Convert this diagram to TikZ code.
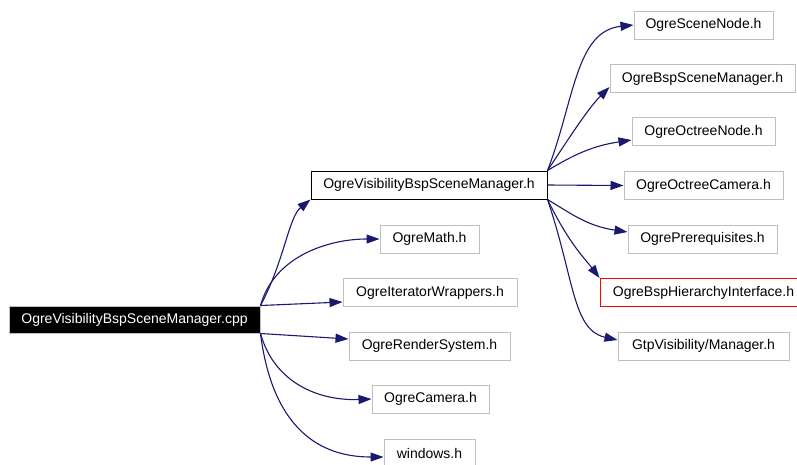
\documentclass[tikz,border=0pt]{standalone}
\usepackage{fontspec}
\setmainfont{Liberation Sans}
\usetikzlibrary{arrows.meta,calc}
\definecolor{edgeblue}{HTML}{191970}
\definecolor{boxgray}{HTML}{BFBFBF}
\begin{document}
\begin{tikzpicture}[x=1pt,y=-1pt,
  file/.style={draw=boxgray, line width=1pt, fill=white, inner sep=0pt,
    minimum height=28pt, font=\fontsize{14}{16}\selectfont, text=black},
  link/.style={draw=edgeblue, line width=1.1pt, -{Triangle[length=13pt,width=9pt]}},
]
\useasboundingbox (0,0) rectangle (797,464);
\fill[white] (0,0) rectangle (797,464);
% nodes
\node[file, fill=black, text=white, minimum width=251pt, minimum height=27pt] (root) at (134.5,319.5) {OgreVisibilityBspSceneManager.cpp};
\node[file, draw=black, minimum width=236pt] (vis) at (429,185) {OgreVisibilityBspSceneManager.h};
\node[file, minimum width=99pt] (math) at (429.5,239) {OgreMath.h};
\node[file, minimum width=174pt] (iter) at (430,292.5) {OgreIteratorWrappers.h};
\node[file, minimum width=161pt] (render) at (429.5,346) {OgreRenderSystem.h};
\node[file, minimum width=117pt] (camera) at (430.5,399) {OgreCamera.h};
\node[file, minimum width=91pt] (win) at (429.5,453) {windows.h};
\node[file, minimum width=139pt] (scenenode) at (703.5,25) {OgreSceneNode.h};
\node[file, minimum width=185pt] (bspscene) at (702.5,78.5) {OgreBspSceneManager.h};
\node[file, minimum width=143pt] (octnode) at (703.5,131.5) {OgreOctreeNode.h};
\node[file, minimum width=159pt] (octcam) at (703.5,185.5) {OgreOctreeCamera.h};
\node[file, minimum width=149pt] (prereq) at (702.5,239) {OgrePrerequisites.h};
\node[file, draw=red, minimum width=207pt] (bsphier) at (703.5,292.5) {OgreBspHierarchyInterface.h};
\node[file, minimum width=171pt] (gtp) at (703.5,346) {GtpVisibility/Manager.h};
% edges from the .cpp file
\draw[link] (root.north east) .. controls +(24,-45) and +(-22,18) .. (vis.south west);
\draw[link] (root.north east) .. controls +(14,-50) and +(-50,0) .. (math.west);
\draw[link] (root.north east) -- ($(iter.west)+(0,9.5)$);
\draw[link] (root.south east) -- ($(render.west)+(0,-7)$);
\draw[link] (root.south east) .. controls +(14,50) and +(-52,2) .. (camera.west);
\draw[link] (root.south east) .. controls +(12,95) and +(-64,0) .. ($(win.west)+(0,4)$);
% edges from the .h file
\draw[link] (vis.north east) .. controls +(27,-70) and +(-58,6) .. (scenenode.west);
\draw[link] (vis.north east) .. controls +(20,-30) and +(-22,22) .. ($(bspscene.west)+(0,8.5)$);
\draw[link] (vis.north east) .. controls +(25,-15) and +(-40,6) .. ($(octnode.west)+(0,8.5)$);
\draw[link] (vis.east) -- (octcam.west);
\draw[link] (vis.south east) .. controls +(25,15) and +(-40,-6) .. ($(prereq.west)+(0,-7)$);
\draw[link] (vis.south east) .. controls +(22,45) and +(-15,-20) .. (bsphier.north west);
\draw[link] (vis.south east) .. controls +(27,80) and +(-45,-10) .. ($(gtp.west)+(0,-6)$);
\end{tikzpicture}
\end{document}
